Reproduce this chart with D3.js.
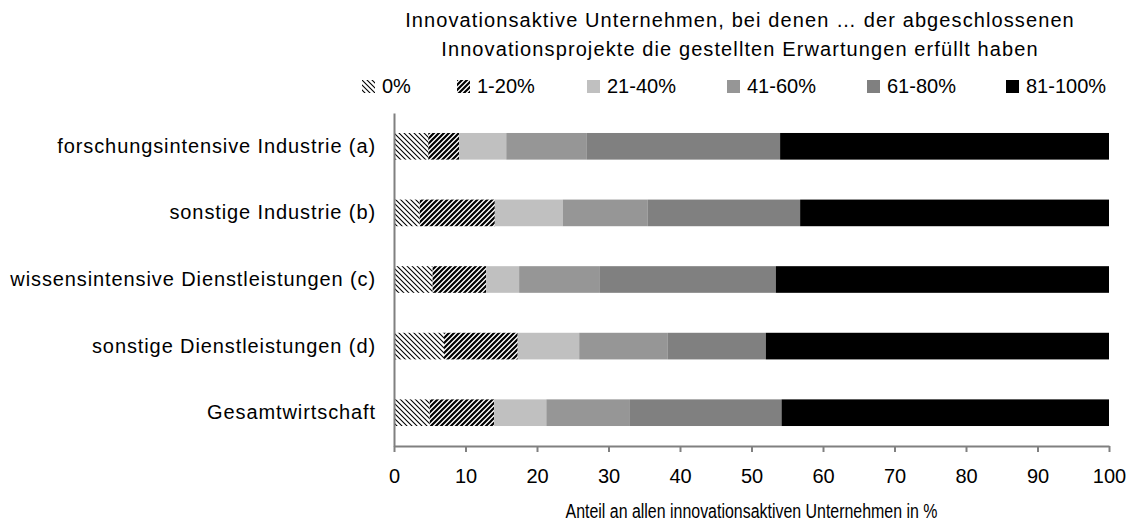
<!DOCTYPE html>
<html>
<head>
<meta charset="utf-8">
<script src="https://cdn.jsdelivr.net/npm/d3@7"></script>
<style>
    body { margin: 0; background: #fff; }
    svg { display: block; font-family: "Liberation Sans", Arial, sans-serif; }
</style>
</head>
<body>
<div id="chart"></div>
<script>
    // categories, top to bottom
    const categories = [
        'forschungsintensive Industrie (a)',
        'sonstige Industrie (b)',
        'wissensintensive Dienstleistungen (c)',
        'sonstige Dienstleistungen (d)',
        'Gesamtwirtschaft'
    ];

    // share (%) of firms per expectation class
    const share0 = [4.8, 3.6, 5.4, 7.0, 5.0];
    const share1to20 = [4.3, 10.5, 7.5, 10.3, 9.0];
    const share21to40 = [6.6, 9.5, 4.6, 8.6, 7.3];
    const share41to60 = [11.2, 11.9, 11.3, 12.4, 11.7];
    const share61to80 = [27.1, 21.3, 24.6, 13.7, 21.2];
    const share81to100 = [46.0, 43.2, 46.6, 48.0, 45.8];

    const seriesNames = ['0%', '1-20%', '21-40%', '41-60%', '61-80%', '81-100%'];
    const xTicks = [0, 10, 20, 30, 40, 50, 60, 70, 80, 90, 100];

    const titleLines = [
        'Innovationsaktive Unternehmen, bei denen \u2026 der abgeschlossenen',
        'Innovationsprojekte die gestellten  Erwartungen erfüllt haben'
    ];
    const xLabel = 'Anteil an allen innovationsaktiven Unternehmen in %';

    const width = 1129;
    const height = 526;
    const margins = { top: 113, bottom: 80, left: 394, right: 20 };
    const fontSize = 20;

    const fills = ['url(#pat-light)', 'url(#pat-wide)', '#c0c0c0', '#969696', '#808080', '#000000'];
    const legendX = [362, 457, 587, 727, 867, 1006];

    const rows = categories.map((c, i) => ({
        category: c,
        '0%': share0[i],
        '1-20%': share1to20[i],
        '21-40%': share21to40[i],
        '41-60%': share41to60[i],
        '61-80%': share61to80[i],
        '81-100%': share81to100[i]
    }));

    const svg = d3.select('#chart')
        .append('svg')
        .attr('width', width)
        .attr('height', height);

    //patterns
    const defs = svg.append('defs');
    const light = defs.append('pattern')
        .attr('id', 'pat-light')
        .attr('patternUnits', 'userSpaceOnUse')
        .attr('width', 5)
        .attr('height', 5);
    light.append('rect').attr('width', 5).attr('height', 5).attr('fill', '#fff');
    light.append('path')
        .attr('d', 'M-1,-1 L6,6 M-1,4 L1,6 M4,-1 L6,1')
        .attr('stroke', '#000')
        .attr('stroke-width', 1.1);

    const wide = defs.append('pattern')
        .attr('id', 'pat-wide')
        .attr('patternUnits', 'userSpaceOnUse')
        .attr('width', 5)
        .attr('height', 5);
    wide.append('rect').attr('width', 5).attr('height', 5).attr('fill', '#fff');
    wide.append('path')
        .attr('d', 'M-1,6 L6,-1 M-1,1 L1,-1 M4,6 L6,4')
        .attr('stroke', '#000')
        .attr('stroke-width', 2.2);

    const plotH = height - margins.top - margins.bottom;

    //scales
    const x = d3.scaleLinear()
        .domain([0, 100])
        .range([0, 715]);
    const y = d3.scaleBand()
        .domain(categories)
        .range([0, plotH])
        .paddingInner(0.6)
        .paddingOuter(0.3);

    const chart = svg.append('g')
        .attr('transform', `translate(${margins.left},${margins.top})`);

    //bars
    const stacked = d3.stack().keys(seriesNames)(rows);
    chart.selectAll('g.series')
        .data(stacked)
        .join('g')
        .classed('series', true)
        .attr('fill', (d, i) => fills[i])
        .selectAll('rect')
        .data(d => d)
        .join('rect')
        .attr('x', d => x(d[0]))
        .attr('width', d => x(d[1]) - x(d[0]))
        .attr('y', d => y(d.data.category))
        .attr('height', y.bandwidth());

    //x axis
    const xAxis = chart.append('g')
        .attr('transform', `translate(0,${plotH})`)
        .call(d3.axisBottom(x).tickValues(xTicks).tickSize(6).tickSizeOuter(0).tickPadding(17));
    xAxis.select('.domain').attr('stroke', '#808080').attr('stroke-width', 2);
    xAxis.selectAll('.tick line').attr('stroke', '#808080').attr('stroke-width', 2);
    xAxis.selectAll('.tick text')
        .attr('font-size', fontSize)
        .attr('fill', '#000')
        .attr('font-family', '"Liberation Sans", Arial, sans-serif');

    //y axis
    const yAxis = chart.append('g')
        .call(d3.axisLeft(y).tickSize(0).tickPadding(18));
    yAxis.select('.domain').attr('stroke', '#808080').attr('stroke-width', 2);
    yAxis.selectAll('.tick text')
        .attr('font-size', fontSize)
        .attr('fill', '#000')
        .attr('letter-spacing', '0.9px')
        .attr('font-family', '"Liberation Sans", Arial, sans-serif');

    //axis label (narrow, as in the original)
    svg.append('text')
        .attr('x', margins.left + x(50))
        .attr('y', 518)
        .attr('text-anchor', 'middle')
        .attr('font-size', fontSize)
        .attr('textLength', 372)
        .attr('lengthAdjust', 'spacingAndGlyphs')
        .text(xLabel);

    //title
    svg.selectAll('text.title')
        .data(titleLines)
        .join('text')
        .classed('title', true)
        .attr('x', 740)
        .attr('y', (d, i) => 27 + i * 29)
        .attr('text-anchor', 'middle')
        .attr('font-size', fontSize)
        .attr('letter-spacing', '1.1px')
        .text(d => d);

    //legend
    const legend = svg.append('g')
        .selectAll('g')
        .data(seriesNames)
        .join('g')
        .attr('transform', (d, i) => `translate(${legendX[i]},80)`);
    legend.append('rect')
        .attr('width', 13)
        .attr('height', 13)
        .attr('fill', (d, i) => fills[i]);
    legend.append('text')
        .attr('x', 20)
        .attr('y', 13)
        .attr('font-size', fontSize)
        .text(d => d);
</script>
</body>
</html>
